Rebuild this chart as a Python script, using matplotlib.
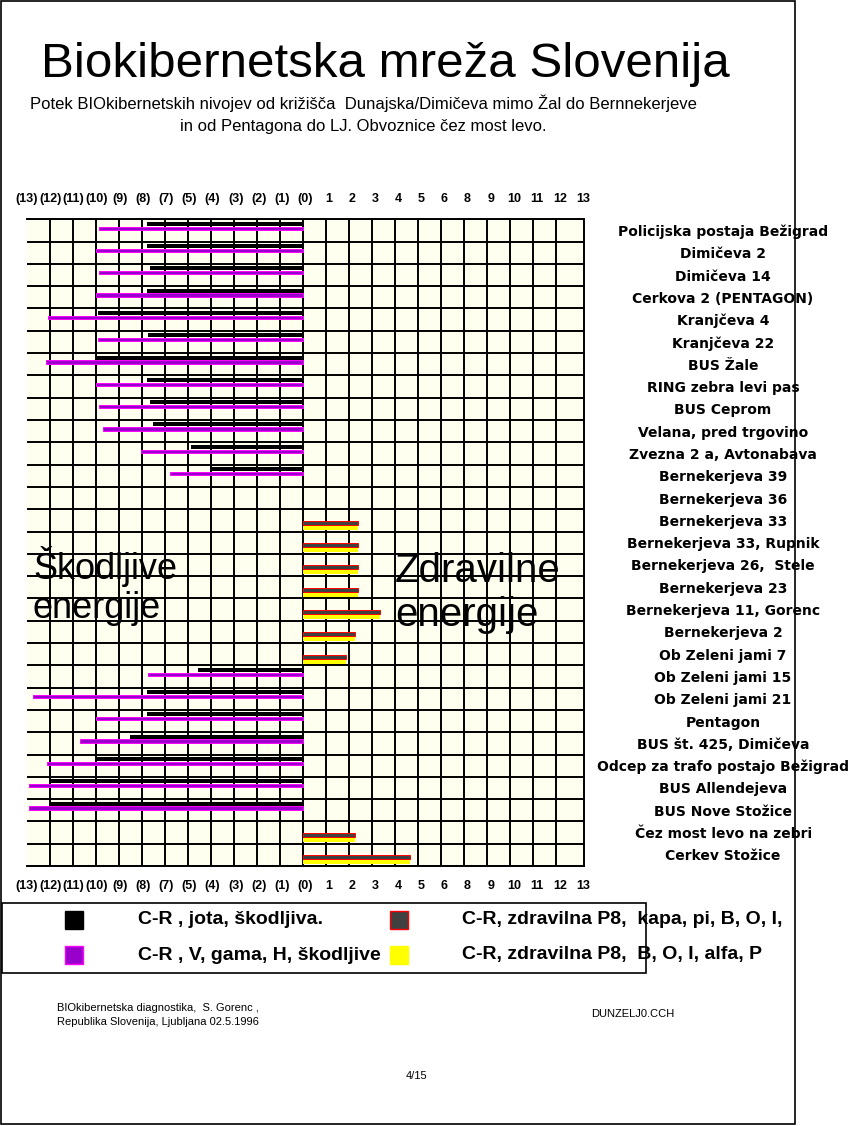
import numpy as np
import matplotlib.pyplot as plt
from matplotlib.patches import Rectangle

nan = np.nan

# lokacije (vrstice od zgoraj navzdol)
places = ['Policijska postaja Bežigrad', 'Dimičeva 2', 'Dimičeva 14',
          'Cerkova 2 (PENTAGON)', 'Kranjčeva 4', 'Kranjčeva 22', 'BUS Žale',
          'RING zebra levi pas', 'BUS Ceprom', 'Velana, pred trgovino',
          'Zvezna 2 a, Avtonabava', 'Bernekerjeva 39', 'Bernekerjeva 36',
          'Bernekerjeva 33', 'Bernekerjeva 33, Rupnik', 'Bernekerjeva 26,  Stele',
          'Bernekerjeva 23', 'Bernekerjeva 11, Gorenc', 'Bernekerjeva 2',
          'Ob Zeleni jami 7', 'Ob Zeleni jami 15', 'Ob Zeleni jami 21', 'Pentagon',
          'BUS št. 425, Dimičeva', 'Odcep za trafo postajo Bežigrad',
          'BUS Allendejeva', 'BUS Nove Stožice', 'Čez most levo na zebri',
          'Cerkev Stožice']

# škodljive (negativno), zdravilne (pozitivno)
jota = [-6.79, -6.79, -6.66, -6.79, -8.91, -6.75, -8.99, -6.79, -6.66, -6.54,
        -4.89, -3.94, nan, nan, nan, nan, nan, nan, nan, nan,
        -4.55, -6.79, -6.79, -7.53, -8.99, -11.01, -11.01, nan, nan]
v_gama = [-8.87, -8.99, -8.87, -8.99, -11.10, -8.91, -11.16, -8.99, -8.87, -8.70,
          -7.04, -5.80, nan, nan, nan, nan, nan, nan, nan, nan,
          -6.75, -11.75, -8.99, -9.69, -11.14, -11.92, -11.92, nan, nan]
p8_kapa = [nan] * 13 + [2.39, 2.39, 2.39, 2.39, 3.34, 2.26, 1.87] + [nan] * 7 + [2.26, 4.64]
p8_alfa = [nan] * 13 + [2.39, 2.39, 2.39, 2.39, 3.34, 2.26, 1.87] + [nan] * 7 + [2.26, 4.64]

scale_labels = ['(13)', '(12)', '(11)', '(10)', '(9)', '(8)', '(7)', '(5)', '(4)',
                '(3)', '(2)', '(1)', '(0)', '1', '2', '3', '4', '5', '6', '8',
                '9', '10', '11', '12', '13']

legend_labels = ['C-R , jota, škodljiva.', 'C-R , V, gama, H, škodljive',
                 'C-R, zdravilna P8,  kapa, pi, B, O, I,',
                 'C-R, zdravilna P8,  B, O, I, alfa, P']

W, H = 854, 1126


def fx(px):
    return px / W


def fy(py):
    return 1 - py / H


fig = plt.figure(figsize=(W / 100, H / 100), dpi=100)
fig.patch.set_facecolor('white')

ax = fig.add_axes([fx(27), fy(866), (583.5 - 27) / W, (866 - 219.3) / H])
ax.set_facecolor('#FFFFF0')

rows = np.arange(len(places))
ax.barh(rows + 0.2, jota, height=0.18, color='black', zorder=3)
ax.barh(rows + 0.4, v_gama, height=0.15, color='#9900CC', edgecolor='#FF00FF',
        linewidth=0.7, zorder=3)
ax.barh(rows + 0.61, p8_kapa, height=0.18, color='#404040', edgecolor='#FF0000',
        linewidth=0.7, zorder=3)
ax.barh(rows + 0.83, p8_alfa, height=0.18, color='#FFFF00', zorder=3)

ax.set_xlim(-12, 12)
ax.set_ylim(len(places), 0)

# mreža
ax.set_xticks(np.arange(-11, 12), minor=True)
ax.set_yticks(np.arange(0, len(places) + 1), minor=True)
ax.grid(which='minor', color='black', linewidth=1.4)
ax.set_axisbelow(True)

ax.set_xticks(np.linspace(-12, 12.2, len(scale_labels)))
ax.set_xticklabels(scale_labels, family='Liberation Sans', fontweight='bold', fontsize=9)
ax.tick_params(axis='x', which='major', top=True, labeltop=True, bottom=True,
               labelbottom=True, length=0, pad=10)

ax.yaxis.tick_right()
ax.set_yticks(rows + 0.5)
ax.set_yticklabels(places, family='DejaVu Sans', fontweight='bold', fontsize=10)
for lbl in ax.get_yticklabels():
    lbl.set_ha('center')
ax.tick_params(axis='y', which='both', length=0, pad=100.5)
ax.tick_params(which='minor', length=0)

ax.spines['left'].set_visible(False)
for s in ['right', 'top', 'bottom']:
    ax.spines[s].set_linewidth(1.4)

ax.text(fx(33), fy(579), 'Škodljive', transform=fig.transFigure,
        fontsize=26, family='Liberation Sans', va='baseline', zorder=5)
ax.text(fx(33), fy(618), 'energije', transform=fig.transFigure,
        fontsize=26, family='Liberation Sans', va='baseline', zorder=5)
ax.text(fx(395), fy(582), 'Zdravilne', transform=fig.transFigure,
        fontsize=29, family='Liberation Sans', va='baseline', zorder=5)
ax.text(fx(395), fy(626), 'energije', transform=fig.transFigure,
        fontsize=29, family='Liberation Sans', va='baseline', zorder=5)

# naslov
fig.text(fx(385.5), fy(77), 'Biokibernetska mreža Slovenija', ha='center', va='baseline',
         fontsize=35.5, family='Liberation Sans')
fig.text(fx(363), fy(109), 'Potek BIOkibernetskih nivojev od križišča  Dunajska/Dimičeva '
         'mimo Žal do Bernnekerjeve', ha='center', va='baseline', fontsize=12,
         family='Liberation Sans')
fig.text(fx(363), fy(131), 'in od Pentagona do LJ. Obvoznice čez most levo.',
         ha='center', va='baseline', fontsize=12, family='Liberation Sans')

# legenda
fig.add_artist(Rectangle((fx(2), fy(972.5)), (646 - 2) / W, (972.5 - 902.5) / H,
                         transform=fig.transFigure, fill=False, edgecolor='black', lw=1.2))
swatches = [('black', 'black'), ('#9900CC', '#FF00FF'), ('#404040', '#FF0000'),
            ('#FFFF00', '#FFFF00')]
pos = [(65.5, 920), (65.5, 955), (390, 920), (390, 955)]
for (fc, ec), (sx, sy), lab in zip(swatches, pos, legend_labels):
    fig.add_artist(Rectangle((fx(sx), fy(sy + 9)), 18 / W, 18 / H, transform=fig.transFigure,
                             facecolor=fc, edgecolor=ec, lw=1.0))
    fig.text(fx(sx + 72), fy(sy), lab, va='center', ha='left', fontsize=14,
             fontweight='bold', family='Liberation Sans')

# noga
fig.text(fx(57), fy(1008), 'BIOkibernetska diagnostika,  S. Gorenc ,', va='center',
         fontsize=8, family='Liberation Sans')
fig.text(fx(57), fy(1022), 'Republika Slovenija, Ljubljana 02.5.1996', va='center',
         fontsize=8, family='Liberation Sans')
fig.text(fx(591), fy(1014), 'DUNZELJ0.CCH', va='center', fontsize=8, family='Liberation Sans')
fig.text(fx(417), fy(1076), '4/15', va='center', ha='center', fontsize=8,
         family='Liberation Sans')

# okvir strani
fig.add_artist(Rectangle((fx(1), fy(1124)), (795.5 - 1) / W, (1124 - 1) / H,
                         transform=fig.transFigure, fill=False, edgecolor='black', lw=1.2))

fig.savefig('out.png', dpi=100)
